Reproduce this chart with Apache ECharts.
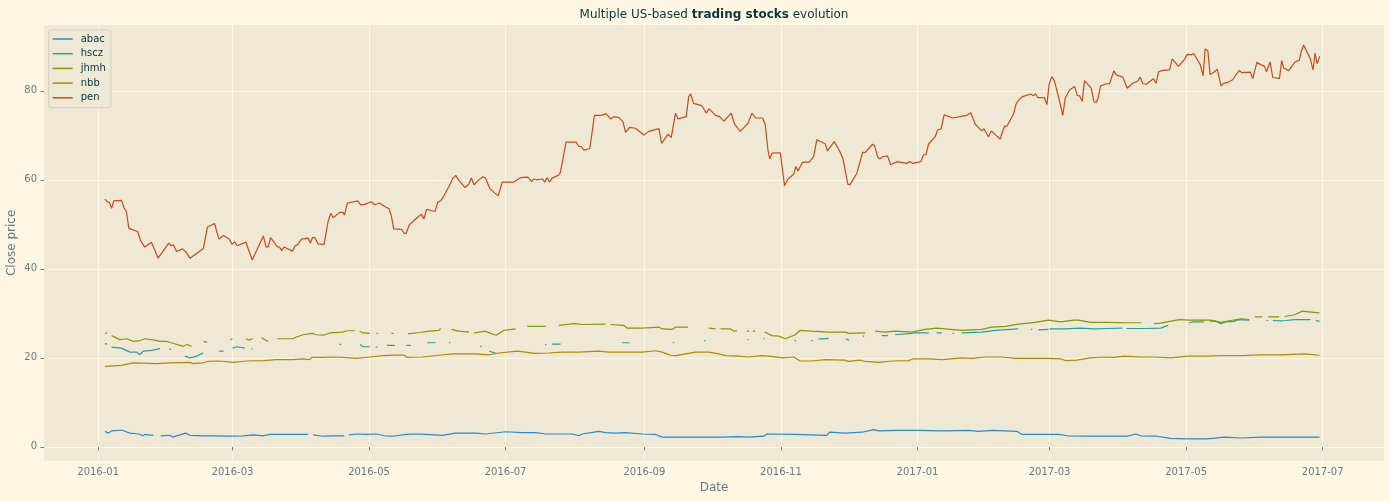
<!DOCTYPE html>
<html>
<head>
<meta charset="utf-8">
<script src="https://cdn.jsdelivr.net/npm/echarts@6/dist/echarts.min.js"></script>
<style>
html,body{margin:0;padding:0;background:#fdf6e3;}
#c{width:1390px;height:501px;}
</style>
</head>
<body>
<div id="c"></div>
<script>
// ---------- data (x = day offset from 2016-01-01, null value = gap) ----------
const seriesNames = ['abac', 'hscz', 'jhmh', 'nbb', 'pen'];
const yTicks = [0, 20, 40, 60, 80];
const xTicks = ['2016-01', '2016-03', '2016-05', '2016-07', '2016-09', '2016-11', '2017-01', '2017-03', '2017-05', '2017-07'];

const abacDay = [3,4.5,6,10.4,14.2,18.3,19.8,20.9,24.6,26,27.9,32,33.2,36.5,39,41,46.9,52,58.8,64.8,69.3,73.7,76.7,81,85.5,93.8,95,96,100.5,105.7,109.9,111,112.1,115.4,119.8,124.3,128,131.7,137.7,142,146.2,153.7,159.7,168.6,173,182,189.4,195.3,199.9,205.8,211.8,214.7,216.2,223.7,226.6,231,235.5,243,249,252,256.4,262.3,269.8,278.7,286,290.6,297.3,298.8,311.4,325.5,326.7,333.7,341.2,346.4,348.6,356,366.5,376.9,388.8,393.3,399.2,410.4,412.6,420,429,433,442,450.8,459.7,463.5,465.7,473,479,486.6,495.5,503,510.5,519.4,528.4,537.3,545.6];
const abacVal = [3.5,3.1,3.6,3.8,3.1,2.9,2.5,2.8,2.6,null,2.5,2.6,2.2,2.7,3.1,2.6,2.5,2.5,2.4,2.5,2.7,2.5,2.8,2.8,2.8,2.8,null,2.7,2.4,2.5,2.5,null,2.7,2.9,2.8,2.9,2.5,2.4,2.8,2.9,2.8,2.6,3.1,3.1,2.9,3.4,3.2,3.2,2.9,2.9,2.9,2.5,2.9,3.5,3.2,3.1,3.2,2.9,2.8,2.2,2.2,2.2,2.2,2.2,2.3,2.2,2.4,2.9,2.8,2.6,3.3,3.1,3.3,3.9,3.6,3.7,3.7,3.6,3.7,3.5,3.7,3.5,2.8,2.8,2.8,2.5,2.4,2.4,2.4,2.9,2.5,2.4,1.9,1.8,1.8,2.2,2.0,2.2,2.2,2.2,2.2];

const hsczDay = [3,4,5,6,10.4,14.2,17.2,18.6,20.1,23.8,27.6,29,31.8,32.6,35,38.7,41,44,46.9,50,54,56,58,60,62,65.5,67,68.2,69,90,107.8,108.6,112,117,118.3,121.3,123,124,124.8,127,129,132.5,135,137.7,139.6,143,147,150.7,153,156.7,157.3,165,170.6,171.2,173,174.6,177.5,190,199.6,200.2,201,202.8,206.6,220,234,237.4,245,256.7,257.3,265,270.7,271.3,280,290,290.6,294,297,297.6,305,311.1,311.7,315,318.5,319.1,320,321.8,326.3,330,334,335.5,338,341.6,342.2,346,350,352.8,354,356,363.5,364.5,371,373,374.6,376.9,379,381.7,382.3,384,385.8,394.7,400.7,411,414,416.7,417.3,418.5,420,424.5,424.7,425,431.4,438.8,444.8,451,457.5,458.5,459.4,468.7,474.7,478,483,487.3,489.5,494,495.3,496.7,499,501.5,503.7,507.5,509,514.2,518,522,522.6,523.5,524.7,528.4,530.7,534.4,541.5,543,544,545.6];
const hsczVal = [23.2,23.1,null,22.4,22.2,21.3,21.3,20.7,21.5,21.7,22.1,null,21.9,21.9,null,20.4,20.0,20.4,21.1,null,21.5,21.5,null,22.2,22.5,22.2,null,22.0,22.0,null,23.0,23.1,null,23.0,22.5,22.5,null,22.4,22.4,null,22.8,22.8,null,22.8,22.8,null,23.4,23.4,null,23.4,23.4,null,22.6,22.6,null,21.5,21.1,null,23.0,23.0,null,23.1,23.1,null,23.4,23.4,null,23.4,23.4,null,23.9,23.9,null,24.1,24.1,null,24.3,24.3,null,23.9,23.9,null,23.9,23.9,null,24.2,24.4,null,24.3,23.9,null,24.9,24.9,null,25.0,25.0,null,25.2,25.5,25.6,25.6,null,25.6,25.6,null,25.5,25.5,null,25.6,25.8,26.2,26.5,null,26.4,26.4,null,26.3,26.4,null,26.5,26.5,26.7,26.5,26.6,26.7,null,26.6,26.6,26.7,27.3,null,27.9,28.1,28.1,null,28.2,28.3,27.7,28.1,28.2,28.6,28.5,null,28.4,28.4,null,28.4,28.3,28.4,28.6,28.6,null,28.4,28.2];

const jhmhDay = [3,4,5,6,9.7,12.7,15.7,18.6,20.9,25.3,27.5,30.5,32.7,38,39.8,41.7,44,47,48.7,53,59,60,63,66,67.5,69,71,73,76,78,80,87,88.6,91.5,95.7,97.5,100.5,103.5,109.4,110.9,114.6,115.7,116.8,118.3,121.3,123,124.3,125,128,131,132,135,138.4,143.5,148,152.2,153,155,157.9,161,165.6,166.8,167.9,173,175.3,177.8,181.3,186.5,189,191.7,199.9,203,205.8,212.5,216.2,226.6,227.8,228.9,234.8,236.3,243,250.5,252,256.4,257.9,263.5,268,272.8,275.8,277,278,282.5,284,285.4,287,289.8,290.9,291.7,292.4,293.5,295,297.7,301,304,307,311.4,313.6,318.8,326.3,333.7,335.2,342.6,345,347.1,351.6,356,363.5,369.4,374.6,378.3,385.8,394.7,399.2,405.2,411.1,418.5,424.5,430,435.8,438,443.3,450.8,459.7,466,469,471.7,474.7,477.6,482.9,488,497,501.5,506,510.5,514.2,515.5,516.7,520,521.3,522.7,527.6,528.8,530,534.4,538,541.8,545.6];
const jhmhVal = [25.6,25.5,null,25.0,24.1,24.3,23.7,23.9,24.3,24.0,23.7,23.7,23.4,22.6,23.0,22.6,null,23.7,23.5,null,24.1,24.3,null,24.3,24.0,24.3,null,24.5,23.7,null,24.3,24.3,24.7,25.2,25.5,25.2,25.1,25.6,25.8,26.1,26.1,null,26.0,25.6,25.5,null,25.5,25.5,null,25.5,25.5,null,25.4,25.7,26.0,26.2,26.6,null,26.4,26.0,25.8,null,25.6,26.0,25.5,25.1,26.2,26.5,null,27.1,27.1,null,27.3,27.7,27.5,27.6,null,27.5,27.3,26.7,26.7,26.9,26.5,26.4,26.9,26.9,null,26.7,26.5,null,26.5,26.5,26.0,26.1,null,26.0,26.0,null,26.0,26.0,null,25.8,25.0,24.9,24.3,25.2,26.2,26.0,25.8,25.8,25.5,25.6,null,26.0,25.8,26.0,25.8,26.4,26.7,26.5,26.2,26.4,26.9,27.1,27.6,28.0,28.5,28.1,28.5,28.5,28.0,28.0,27.9,27.9,null,27.7,27.8,28.1,28.6,28.5,28.5,28.0,28.4,28.8,28.6,null,29.2,29.2,null,29.2,29.2,null,29.3,29.7,30.5,30.3,30.1];

const nbbDay = [3,10.4,15.7,26,32,41,42.5,46.9,49,54.3,60.3,66.3,73.7,79.6,87,91.5,94.5,95.3,100.5,105,109.4,115.4,121.3,127.3,131.7,136.9,138,144.8,152.2,158.2,168.6,174.6,179,187.2,191,194.6,195.3,201.3,207.2,214.7,223.7,228.2,235.6,243,249,252,255.7,258,262.4,266.8,272.8,277.2,280.2,286.2,290.6,296.5,299.5,306.2,310.7,313.6,318.8,324.8,333.7,335.2,340.4,342.6,348.6,354.6,362,364.2,370.9,376.9,385.8,390.3,396.2,403.7,409.6,415.6,424.5,430,432,437.3,443.3,449.3,453.8,458.2,465.7,471.7,479,486.6,495.5,501.5,510.5,519.4,528.4,538.8,545.6];
const nbbVal = [18.1,18.3,18.9,18.7,18.9,19.0,18.7,18.9,19.2,19.3,19.0,19.3,19.4,19.6,19.6,19.8,19.6,20.1,20.1,20.2,20.1,19.9,20.2,20.5,20.6,20.6,20.1,20.2,20.6,20.9,20.9,20.7,21.1,21.5,21.3,21.0,21.3,21.1,21.3,21.3,21.5,21.3,21.3,21.3,21.6,21.3,20.6,20.5,20.9,21.3,21.3,20.9,20.5,20.4,20.2,20.5,20.4,20.0,20.2,19.3,19.3,19.6,19.5,19.2,19.5,19.2,19.0,19.3,19.4,19.8,19.8,19.6,20.0,19.9,20.2,20.2,19.9,19.9,19.9,19.8,19.4,19.5,20.0,20.2,20.1,20.4,20.2,20.2,20.0,20.4,20.4,20.5,20.5,20.7,20.7,20.9,20.6];

const penDay = [3,4,5,6,7,10.4,11.5,12.6,13.7,17.6,19,20.8,23.8,26.8,31.5,32.6,33.6,35,37.7,39.3,40,41,47,48.8,52,53.9,56,58.5,59.8,61,62,66,68.8,73.8,75,76,77,80,81,82,83,86.8,88,89,90.8,93.8,94.8,95.8,97,98.2,100.9,102.7,103.9,105,107.9,109.4,110,111.3,116,117.2,119,122,123.5,125.7,128,130,131,132,135.6,136.6,137.6,139,141.8,144.4,145.5,146.7,150.5,151.7,153,154,156.7,158.5,159.7,161,163.8,165.5,166.7,167.9,170,171.9,173,174.9,176.8,178.7,180.5,185.7,188.7,192,193.6,194.6,196,198.4,199.5,200.6,201.6,202.8,205.8,206.5,209,213.5,214.7,215.8,217,219.6,221.7,224.8,226.9,228.9,230.4,232.6,234.4,235.6,237.4,240,243.8,246,250.5,251.7,254.6,256,257.9,259,262.7,263.8,264.7,266,269.6,271.7,272.8,275.8,277.6,279.5,282.8,284.3,286.8,290.3,292,293.8,296.8,298,299.2,300,301,304.7,306.6,308,310.7,311.7,312.6,314.7,317.6,319.6,321,321.8,324.8,325.8,328.8,331,332.7,334.9,336,338.9,341.5,342.7,345.9,346.8,348.2,349.1,350.5,352.6,354,354.8,357,361,361.7,362.8,363.8,367.5,368.7,369.8,370.9,373.9,375,376.6,377.9,381.8,388,389.8,391.8,394.7,395.7,397.7,398.9,402.9,404.9,406,408.9,410,411,412.9,416.6,417.8,418.8,419.7,422.7,423.8,424.8,426,427.2,429.7,430.9,432,433.9,436.2,437.4,438.4,439.6,440.6,443.6,444.8,445.8,446.6,447.8,450.3,451.8,453.7,454.8,457.7,459.7,462.2,464.4,465.5,466.7,468.2,471.4,472.6,473.7,475.6,478.6,479.8,480.5,482.6,485.3,486.5,488.3,489.4,492.4,493.6,494.5,495.7,496.7,498.7,499.9,500.6,501.6,502.7,504.6,506.8,508,509.8,510.8,514.7,515.8,517.6,519.3,521,521.9,523.5,524.7,527.7,528.7,529.6,530.7,531.7,534.7,536.6,537.4,538.5,541.5,542.7,543.6,544.5,545.7];
const penVal = [55.7,55.1,54.9,53.6,55.3,55.4,53.8,52.9,49.1,48.4,46.3,44.9,46.0,42.4,45.8,45.2,45.4,43.9,44.5,43.7,44.1,42.4,44.6,49.4,50.2,46.7,47.5,46.7,45.5,46.1,45.2,46.0,42.0,47.4,44.9,45.0,47.0,45.0,44.9,44.1,44.9,44.0,45.2,45.4,46.7,46.9,45.8,47.1,46.9,45.6,45.5,50.6,52.5,51.5,52.7,52.7,52.1,54.8,55.3,54.4,54.5,55.1,54.4,54.8,54.0,53.5,51.8,49.0,48.9,48.0,48.0,49.9,51.2,52.3,51.2,53.4,52.9,55.0,55.3,56.0,58.5,60.4,61.0,60.0,58.3,59.0,60.4,58.9,60.0,60.7,60.4,58.1,57.2,56.4,59.5,59.5,60.5,60.6,59.6,60.2,60.0,60.2,59.5,60.5,59.5,60.4,61.1,61.7,68.5,68.5,67.5,67.5,66.7,67.0,74.5,74.5,74.9,73.7,74.2,74.0,73.1,70.7,71.8,71.6,70.1,70.9,71.5,68.2,70.3,69.5,75.0,73.7,74.2,78.7,79.3,77.2,76.7,75.0,76.0,74.5,74.2,73.2,75.0,72.5,70.9,72.7,75.0,73.9,73.9,72.4,66.7,64.7,66.0,66.1,58.7,60.1,61.3,63.0,62.0,64.0,64.0,65.2,69.0,69.1,68.1,66.5,68.6,66.7,64.8,59.0,59.0,61.5,66.2,66.2,68.0,67.7,65.2,64.7,65.2,65.4,63.4,63.0,64.1,63.7,63.4,64.1,63.7,64.1,65.6,65.7,68.0,69.7,71.2,71.5,74.6,73.9,74.5,75.1,72.5,71.0,71.5,69.7,71.0,69.2,72.1,72.1,74.8,77.0,77.8,78.7,79.3,78.9,79.3,78.5,78.5,76.9,81.5,83.2,82.2,77.2,74.5,78.4,80.2,81.0,78.9,78.9,77.6,82.3,80.6,77.6,77.4,78.2,81.1,81.6,81.6,84.5,83.6,83.1,80.6,81.7,82.2,83.1,81.6,81.5,82.7,81.7,84.3,84.6,84.7,87.2,87.3,85.5,87.1,88.2,88.1,88.4,85.8,83.4,89.4,89.0,83.7,84.3,84.9,84.7,81.1,81.7,81.9,82.5,83.4,84.6,84.1,84.2,82.8,86.4,85.9,85.5,84.3,86.5,83.0,82.8,86.8,85.1,84.9,84.5,86.5,86.9,88.8,90.3,87.2,84.7,88.5,86.1,87.8];

const seriesDays = [abacDay, hsczDay, jhmhDay, nbbDay, penDay];
const seriesVals = [abacVal, hsczVal, jhmhVal, nbbVal, penVal];
const seriesColors = ['#268BD2', '#2AA198', '#859900', '#B58900', '#CB4B16'];

// ---------- chart ----------
const DAY = 86400000;
const base = Date.UTC(2016, 0, 1);
const toTime = d => base + d * DAY;
const tickTimes = xTicks.map(s => { const p = s.split('-'); return Date.UTC(+p[0], +p[1] - 1, 1); });
const pad = n => (n < 10 ? '0' : '') + n;
const FONT = 'DejaVu Sans';
const TXT = '#657b83';

const chart = echarts.init(document.getElementById('c'), null, { renderer: 'canvas' });
chart.setOption({
  animation: false,
  backgroundColor: '#fdf6e3',
  title: {
    text: '{a|Multiple US-based }{b|trading stocks}{a| evolution}',
    left: 714, top: 9, textAlign: 'center', padding: 0,
    textStyle: {
      fontFamily: FONT, fontSize: 12, fontWeight: 'normal', color: '#073642',
      rich: {
        a: { fontFamily: FONT, fontSize: 12, fontWeight: 'normal', color: '#073642' },
        b: { fontFamily: FONT, fontSize: 12, fontWeight: 'bold', color: '#073642' }
      }
    }
  },
  legend: {
    orient: 'vertical', left: 48.7, top: 30,
    padding: [3, 5, 4, 4], itemGap: 2.7, itemWidth: 20, itemHeight: 1.5,
    icon: 'rect',
    backgroundColor: 'rgba(238,232,213,0.8)', borderColor: '#d3cfc2', borderWidth: 1, borderRadius: 3,
    textStyle: { fontFamily: FONT, fontSize: 10, color: '#073642', lineHeight: 12, padding: [0, 0, 0, 3] },
    data: seriesNames
  },
  grid: {
    left: 44, right: 6, top: 25, bottom: 40.3,
    show: true, backgroundColor: '#eee8d5', borderWidth: 0,
    containLabel: false, outerBoundsMode: 'none'
  },
  xAxis: {
    type: 'value',
    min: toTime(-24.2), max: toTime(574.4),
    name: 'Date', nameLocation: 'middle', nameGap: 21, nameMoveOverlap: false,
    nameTextStyle: { fontFamily: FONT, fontSize: 12, color: TXT },
    axisLine: { show: false },
    axisTick: { show: true, length: 3.5, lineStyle: { color: TXT, width: 1 }, customValues: tickTimes },
    axisLabel: {
      fontFamily: FONT, fontSize: 10, color: TXT, margin: 6.5, customValues: tickTimes,
      formatter: v => { const d = new Date(v); return d.getUTCFullYear() + '-' + pad(d.getUTCMonth() + 1); }
    },
    splitLine: { show: true, lineStyle: { color: '#fdf6e3', width: 1 } }
  },
  yAxis: {
    type: 'value',
    min: -3.1, max: 94.8,
    name: 'Close price', nameLocation: 'middle', nameGap: 26, nameRotate: 90, nameMoveOverlap: false,
    nameTextStyle: { fontFamily: FONT, fontSize: 12, color: TXT },
    axisLine: { show: false },
    axisTick: { show: true, length: 3.5, lineStyle: { color: TXT, width: 1 }, customValues: yTicks },
    axisLabel: { fontFamily: FONT, fontSize: 10, color: TXT, margin: 7, customValues: yTicks },
    splitLine: { show: true, lineStyle: { color: '#fdf6e3', width: 1 } }
  },
  series: seriesNames.map((name, k) => ({
    name: name,
    type: 'line',
    showSymbol: false,
    symbol: 'none',
    connectNulls: false,
    color: seriesColors[k],
    lineStyle: { width: 1.2, color: seriesColors[k] },
    emphasis: { disabled: true },
    data: seriesDays[k].map((d, i) => [toTime(d), seriesVals[k][i] === null ? '-' : seriesVals[k][i]])
  }))
});
</script>
</body>
</html>
